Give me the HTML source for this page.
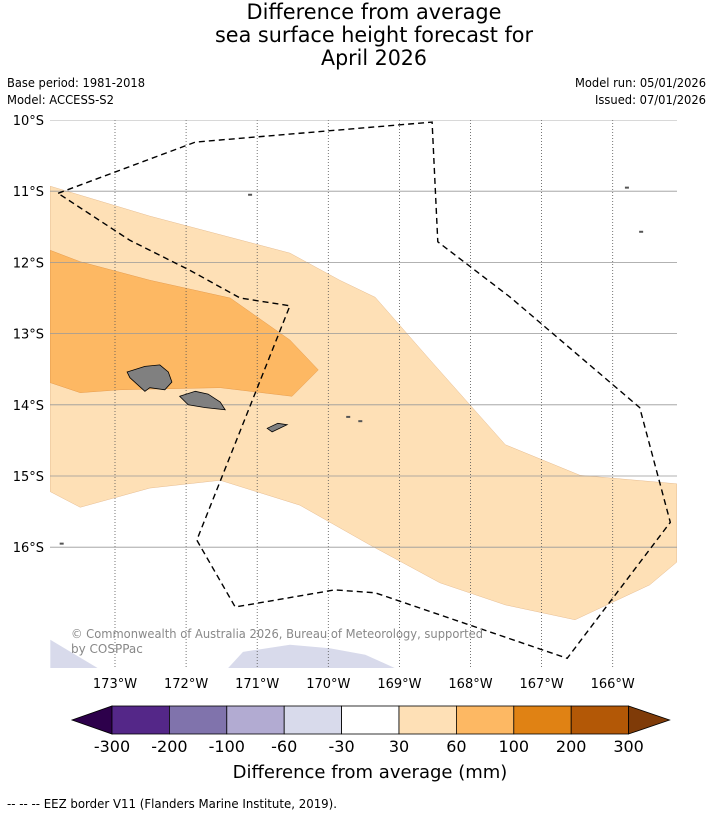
<!DOCTYPE html>
<html><head><meta charset="utf-8"><style>
html,body{margin:0;padding:0;background:#fff}
svg text{font-family:"DejaVu Sans","Liberation Sans",sans-serif}
</style></head><body>
<svg id="c" width="713" height="816" viewBox="0 0 713 816" xmlns="http://www.w3.org/2000/svg">
<g font-size="21" text-anchor="middle" fill="#000">
<text x="374" y="19" textLength="255" lengthAdjust="spacingAndGlyphs">Difference from average</text>
<text x="374" y="42" textLength="318" lengthAdjust="spacingAndGlyphs">sea surface height forecast for</text>
<text x="374" y="65" textLength="106" lengthAdjust="spacingAndGlyphs">April 2026</text>
</g>
<g font-size="12" fill="#000">
<text x="7" y="87" textLength="138" lengthAdjust="spacingAndGlyphs">Base period: 1981-2018</text>
<text x="7" y="104" textLength="107" lengthAdjust="spacingAndGlyphs">Model: ACCESS-S2</text>
<text x="706" y="87" text-anchor="end" textLength="131" lengthAdjust="spacingAndGlyphs">Model run: 05/01/2026</text>
<text x="706" y="104" text-anchor="end" textLength="111" lengthAdjust="spacingAndGlyphs">Issued: 07/01/2026</text>
</g>
<defs><clipPath id="mc"><rect x="50" y="120" width="627" height="548"/></clipPath></defs>
<g id="map" clip-path="url(#mc)"></g>
<g id="axes"></g>
<g id="cbar"></g>
<text x="370" y="778" font-size="18" text-anchor="middle">Difference from average (mm)</text>
<text x="7" y="808" font-size="12" textLength="330" lengthAdjust="spacingAndGlyphs">--  --  -- EEZ border V11 (Flanders Marine Institute, 2019).</text>
</svg>
<script>
// Data arrays (lon negative = W, lat = degrees S)
const lonTicks=[-173,-172,-171,-170,-169,-168,-167,-166];
const latTicks=[10,11,12,13,14,15,16];
const band30=[[-173.91,10.93],[-172.51,11.35],[-170.54,11.87],[-169.84,12.25],[-169.34,12.49],[-168.57,13.37],[-167.51,14.56],[-166.46,14.99],[-165.10,15.11],[-165.10,16.21],[-165.48,16.53],[-166.53,17.02],[-167.51,16.81],[-168.43,16.50],[-169.41,15.97],[-170.40,15.41],[-171.52,15.06],[-172.51,15.17],[-173.49,15.44],[-173.91,15.22]];
const band60=[[-173.91,11.83],[-173.49,11.99],[-172.51,12.25],[-171.38,12.50],[-170.54,13.09],[-170.14,13.51],[-170.51,13.88],[-171.52,13.76],[-172.93,13.79],[-173.49,13.83],[-173.91,13.69]];
const neg30a=[[-173.91,17.30],[-173.24,17.70],[-173.91,17.70]];
const neg30b=[[-171.41,17.70],[-171.20,17.47],[-170.54,17.37],[-169.98,17.42],[-169.48,17.51],[-169.06,17.70]];
const eez=[[-173.80,11.03],[-171.87,10.31],[-168.54,10.03],[-168.46,11.71],[-167.44,12.49],[-165.62,14.04],[-165.19,15.65],[-166.64,17.56],[-169.34,16.64],[-169.91,16.60],[-171.31,16.84],[-171.85,15.90],[-170.54,12.61],[-171.24,12.50],[-171.95,12.11],[-172.79,11.69],[-173.80,11.03]];
const savaii=[[-172.83,13.54],[-172.58,13.46],[-172.37,13.44],[-172.25,13.54],[-172.20,13.68],[-172.30,13.79],[-172.51,13.76],[-172.58,13.81],[-172.79,13.62]];
const upolu=[[-172.09,13.88],[-171.87,13.81],[-171.69,13.85],[-171.52,13.96],[-171.45,14.07],[-171.73,14.04],[-171.97,14.00]];
const tutuila=[[-170.86,14.33],[-170.71,14.26],[-170.58,14.28],[-170.79,14.38]];
const smallIslands=[[-169.72,14.17],[-169.55,14.23],[-165.8,10.95],[-165.6,11.57],[-171.1,11.05],[-173.75,15.95]];
const cbLevels=["-300","-200","-100","-60","-30","30","60","100","200","300"];
const cbColors=["#2d004b","#542788","#8073ac","#b2abd2","#d8daeb","#ffffff","#fee0b6","#fdb863","#e08214","#b35806","#7f3b08"];

const NS="http://www.w3.org/2000/svg";
const px=lon=>115+(lon+173)*71.1, py=lat=>120+(lat-10)*71.2;
function mk(tag,attrs,parent){const e=document.createElementNS(NS,tag);for(const k in attrs)e.setAttribute(k,attrs[k]);parent.appendChild(e);return e;}
const pts=a=>a.map(p=>px(p[0]).toFixed(1)+","+py(p[1]).toFixed(1)).join(" ");
const map=document.getElementById('map'),axes=document.getElementById('axes'),cb=document.getElementById('cbar');
let e;
e=mk('polygon',{points:pts(band30),fill:'#fee0b6',stroke:'#e0b080','stroke-width':0.4},map);


e=mk('polygon',{points:pts(band60),fill:'#fdb863',stroke:'#e09040','stroke-width':0.4},map);


e=mk('polygon',{points:pts(neg30a),fill:'#d8daeb'},map);


e=mk('polygon',{points:pts(neg30b),fill:'#d8daeb'},map);


lonTicks.forEach(l=>{e=mk('line',{x1:px(l),x2:px(l),y1:120,y2:668,stroke:'#555','stroke-width':0.8,'stroke-dasharray':'1,2'},map);

});
latTicks.forEach(l=>{e=mk('line',{x1:50,x2:677,y1:py(l),y2:py(l),stroke:'#999','stroke-width':0.8},map);

});
[savaii,upolu,tutuila].forEach((isl,i)=>{e=mk('polygon',{points:pts(isl),fill:'#808080',stroke:'#000','stroke-width':0.8},map);

});
smallIslands.forEach(p=>{e=mk('rect',{x:px(p[0])-2,y:py(p[1])-1,width:4,height:2,fill:'#555'},map);

});
e=mk('polyline',{points:pts(eez),fill:'none',stroke:'#000','stroke-width':1.4,'stroke-dasharray':'6,4'},map);


e=mk('text',{x:71,y:638,'font-size':12,fill:'#888',textLength:412,lengthAdjust:'spacingAndGlyphs'},map);
e.textContent='© Commonwealth of Australia 2026, Bureau of Meteorology, supported';


e=mk('text',{x:71,y:653,'font-size':12,fill:'#888'},map);
e.textContent='by COSPPac';


lonTicks.forEach(l=>{e=mk('text',{x:px(l),y:688,'font-size':13,'text-anchor':'middle'},axes);
e.textContent=Math.abs(l)+'°W';

});
latTicks.forEach(l=>{e=mk('text',{x:44,y:py(l)+5,'font-size':13,'text-anchor':'end'},axes);
e.textContent=l+'°S';

});
// colorbar
const cx0=112,cw=57.4,cy=706,ch=28,n=cbColors.length-2;
e=mk('polygon',{points:`72,${cy+ch/2} ${cx0},${cy} ${cx0},${cy+ch}`,fill:cbColors[0],stroke:'#000','stroke-width':0.8},cb);


for(let i=0;i<n;i++){e=mk('rect',{x:cx0+i*cw,y:cy,width:cw,height:ch,fill:cbColors[i+1],stroke:'#000','stroke-width':0.8},cb);

}
const cx1=cx0+n*cw;
e=mk('polygon',{points:`${cx1},${cy} ${cx1+41},${cy+ch/2} ${cx1},${cy+ch}`,fill:cbColors[cbColors.length-1],stroke:'#000','stroke-width':0.8},cb);


cbLevels.forEach((t,i)=>{e=mk('text',{x:cx0+i*cw,y:752,'font-size':16,'text-anchor':'middle'},cb);
e.textContent=t;

});
</script>
</body></html>
